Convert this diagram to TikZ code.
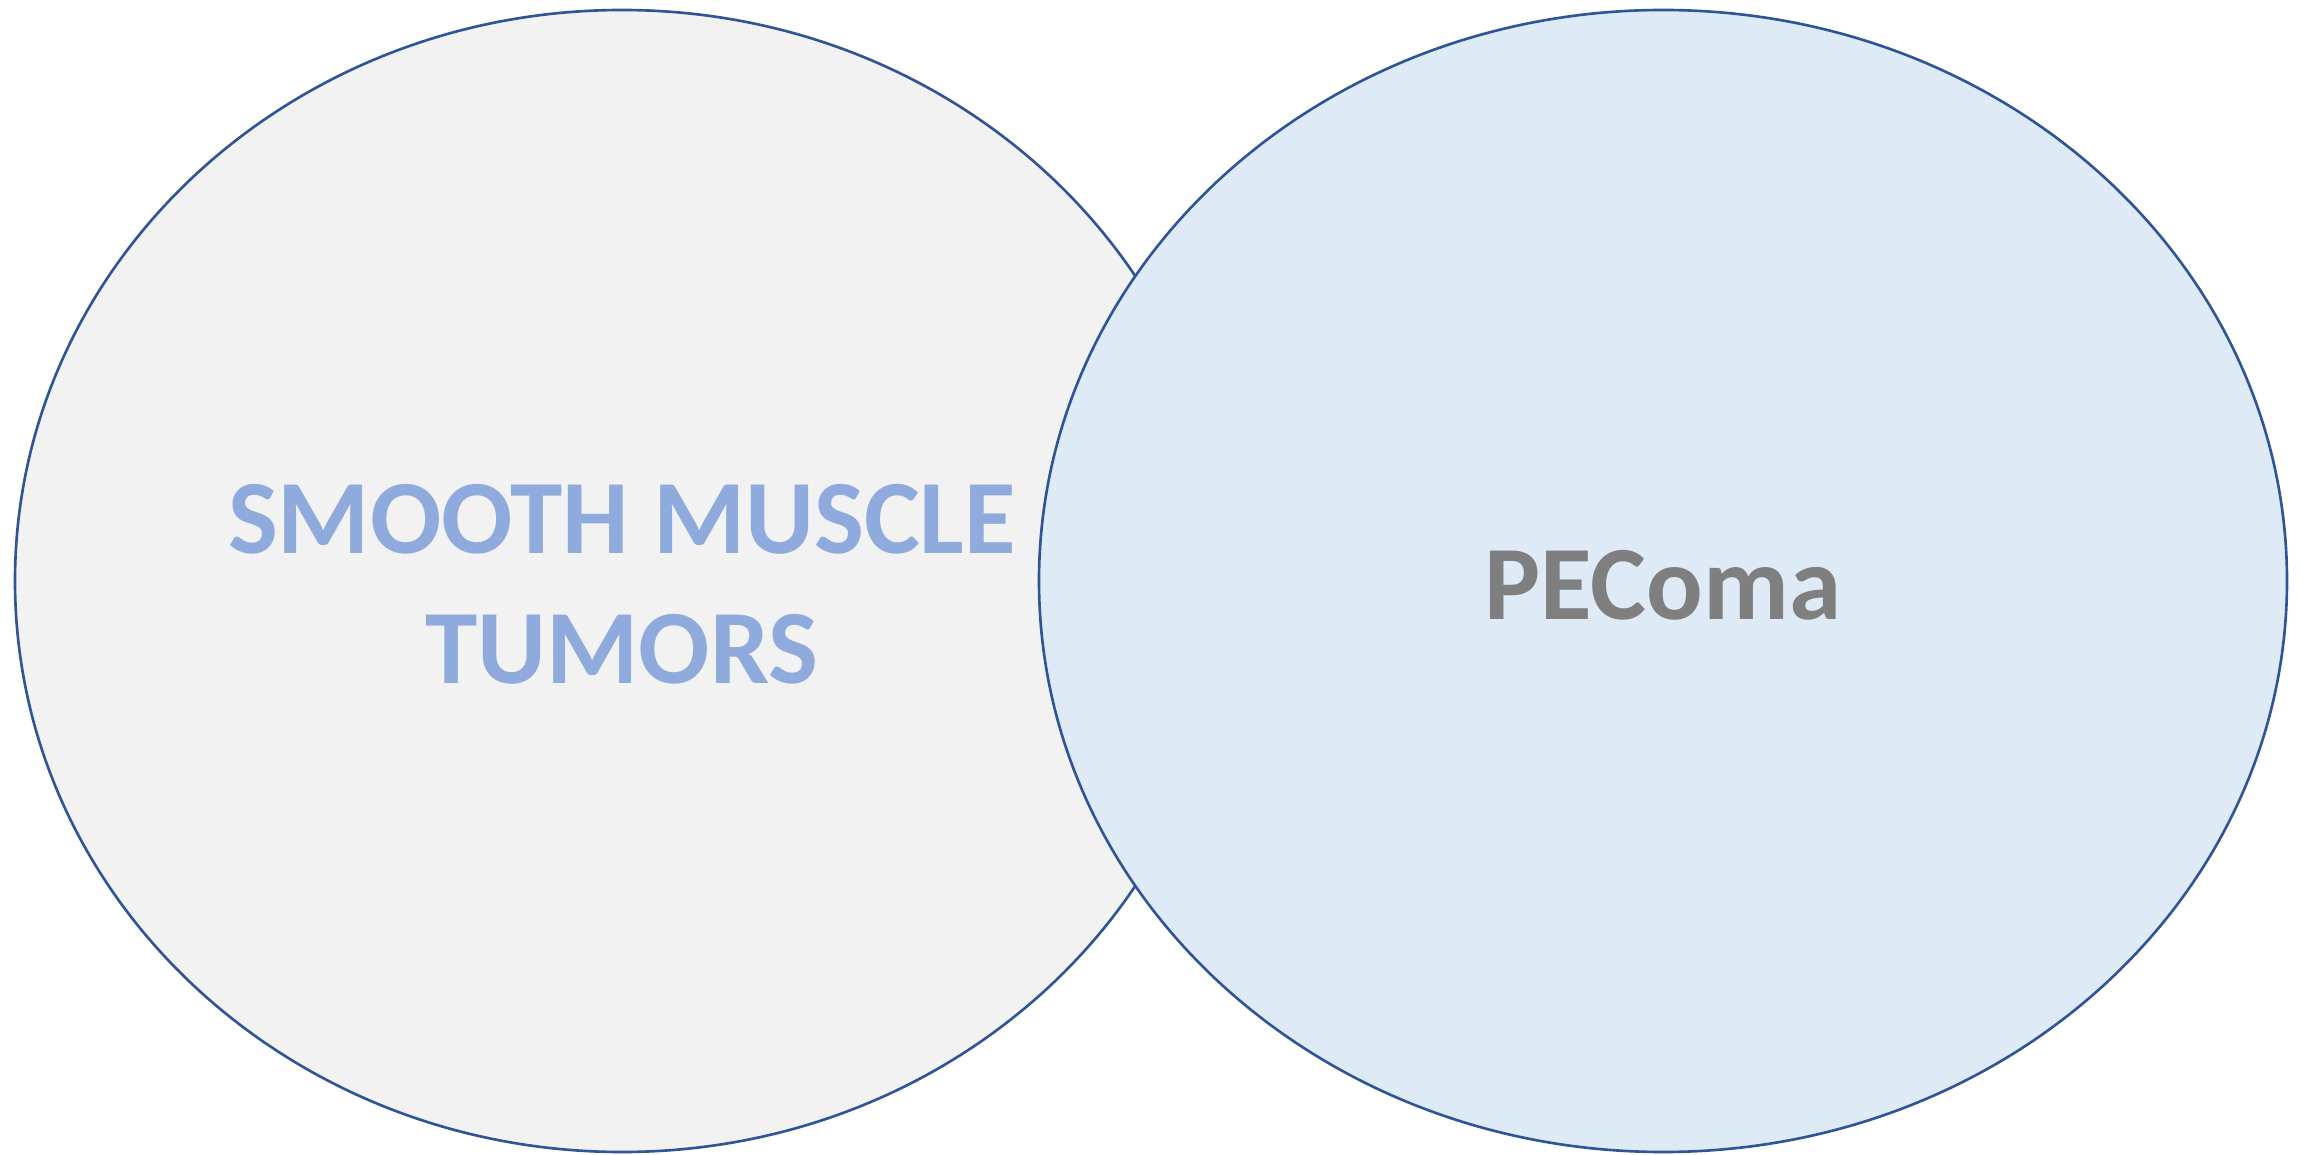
\documentclass[tikz,border=0pt]{standalone}
\usepackage{fontspec}
\setmainfont{Carlito}
\definecolor{rimblue}{HTML}{2F5597}
\definecolor{smoothfill}{HTML}{F2F2F2}
\definecolor{pecomafill}{HTML}{DEEBF7}
\definecolor{smoothtext}{HTML}{8FAADC}
\definecolor{pecomatext}{HTML}{7F7F7F}
\tikzset{
  rim/.style={draw=rimblue, line width=0.75pt},
  label/.style={font=\bfseries\fontsize{30}{37}\selectfont, align=center, inner sep=0pt}
}
\begin{document}
\begin{tikzpicture}[x=0.01cm, y=-0.01cm, line join=round, line cap=round]
			\useasboundingbox (0,0) rectangle (2308,1155);
			\path
			(622,581) coordinate (L)
			(1663,581) coordinate (R)
			;
			% left set first, the right one covers its rim
			\draw[rim, fill=smoothfill] (L) ellipse [x radius=607, y radius=571];
			\draw[rim, fill=pecomafill] (R) ellipse [x radius=624, y radius=571];
			\node[label, text=smoothtext] (smooth) at ([yshift=-0.03cm]L) {SMOOTH MUSCLE\\TUMORS};
			\node[label, text=pecomatext] (pecoma) at ([yshift=-0.04cm]R) {PEComa};
		\end{tikzpicture}
\end{document}
